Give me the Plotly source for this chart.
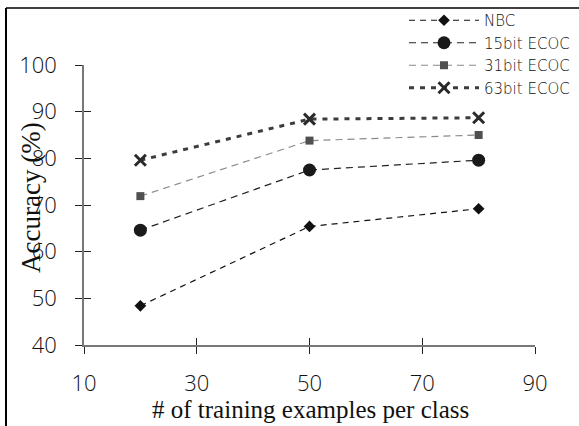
import plotly.graph_objects as go

# Accuracy (%) vs. number of training examples per class
examples = [20, 50, 80]
nbc = [48.4, 65.4, 69.2]
ecoc15 = [64.6, 77.5, 79.6]
ecoc31 = [71.9, 83.8, 85.0]
ecoc63 = [79.6, 88.4, 88.7]

x_ticks = [10, 30, 50, 70, 90]
y_ticks = [40, 50, 60, 70, 80, 90, 100]

W, H = 579, 426
L, R, T, B = 84, 44, 65, 81
PW, PH = W - L - R, H - T - B

fig = go.Figure()

fig.add_trace(go.Scatter(
    x=examples, y=nbc, name="NBC", mode="lines+markers",
    line=dict(color="#111111", width=1.2, dash="6px,5px"),
    marker=dict(symbol="diamond", size=9, color="#111111"),
))
fig.add_trace(go.Scatter(
    x=examples, y=ecoc15, name="15bit ECOC", mode="lines+markers",
    line=dict(color="#222222", width=1.2, dash="7px,5px"),
    marker=dict(symbol="circle", size=13, color="#1a1a1a"),
))
fig.add_trace(go.Scatter(
    x=examples, y=ecoc31, name="31bit ECOC", mode="lines+markers",
    line=dict(color="#8a8a8a", width=1.2, dash="7px,5px"),
    marker=dict(symbol="square", size=8, color="#505050"),
))
fig.add_trace(go.Scatter(
    x=examples, y=ecoc63, name="63bit ECOC", mode="lines+markers",
    line=dict(color="#3c3c3c", width=3, dash="5px,6px"),
    marker=dict(symbol="x-thin", size=11, color="#2a2a2a",
                line=dict(width=3, color="#2a2a2a")),
))

# Invisible trace on the overlaid axes so the inner tick marks are drawn
fig.add_trace(go.Scatter(x=[10], y=[40], xaxis="x2", yaxis="y2",
                         mode="markers", marker=dict(opacity=0),
                         showlegend=False, hoverinfo="skip"))

sans = "'Open Sans', Lato, sans-serif"
serif = "'Liberation Serif', 'Times New Roman', serif"
tick_font = dict(family=sans, size=22, color="#111111", weight=300)
axis_common = dict(showgrid=False, zeroline=False, showline=True,
                   linecolor="#777777", linewidth=1.5,
                   ticks="outside", ticklen=7, tickwidth=1.2, tickcolor="#222222")

fig.update_layout(
    width=W, height=H,
    margin=dict(l=L, r=R, t=T, b=B, autoexpand=False),
    paper_bgcolor="white", plot_bgcolor="white",
    showlegend=True,
    legend=dict(
        x=(W - 4 - L) / PW, y=(H - B - 4) / PH, xanchor="right", yanchor="top",
        bgcolor="rgba(0,0,0,0)", borderwidth=0,
        font=dict(family="'DejaVu Sans', 'Open Sans', sans-serif", size=15,
                  color="#111111", weight=200),
        itemwidth=70, tracegroupgap=0,
    ),
    xaxis=dict(range=[10, 90], tickvals=x_ticks, ticktext=[str(v) for v in x_ticks],
               tickfont=tick_font, ticklabelstandoff=11, **axis_common),
    yaxis=dict(range=[40, 100], tickvals=y_ticks, ticktext=[str(v) for v in y_ticks],
               tickfont=tick_font, ticklabelstandoff=14, **axis_common),
    xaxis2=dict(range=[10, 90], overlaying="x", tickvals=x_ticks, showticklabels=False,
                showgrid=False, zeroline=False, showline=False,
                ticks="inside", ticklen=7, tickwidth=1.2, tickcolor="#222222"),
    yaxis2=dict(range=[40, 100], overlaying="y", tickvals=y_ticks, showticklabels=False,
                showgrid=False, zeroline=False, showline=False,
                ticks="inside", ticklen=7, tickwidth=1.2, tickcolor="#222222"),
    shapes=[
        # frame around the figure (top and left edges)
        dict(type="line", xref="paper", yref="paper",
             x0=(6 - L) / PW, x1=(W - L) / PW, y0=(H - B - 8) / PH, y1=(H - B - 8) / PH,
             line=dict(color="black", width=1.5)),
        dict(type="line", xref="paper", yref="paper",
             x0=(6 - L) / PW, x1=(6 - L) / PW, y0=(H - B - 8) / PH, y1=-B / PH,
             line=dict(color="black", width=2)),
    ],
    annotations=[
        dict(text="# of training examples per class", xref="paper", yref="paper",
             x=(310 - L) / PW, y=(H - B - 409) / PH, xanchor="center", yanchor="middle",
             showarrow=False,
             font=dict(family=serif, size=25, color="#111111")),
        dict(text="Accuracy (%)", xref="paper", yref="paper", textangle=-90,
             x=(31 - L) / PW, y=(H - B - 198) / PH, xanchor="center", yanchor="middle",
             showarrow=False,
             font=dict(family=serif, size=27, color="#111111")),
    ],
)

fig.write_html("out.html")
